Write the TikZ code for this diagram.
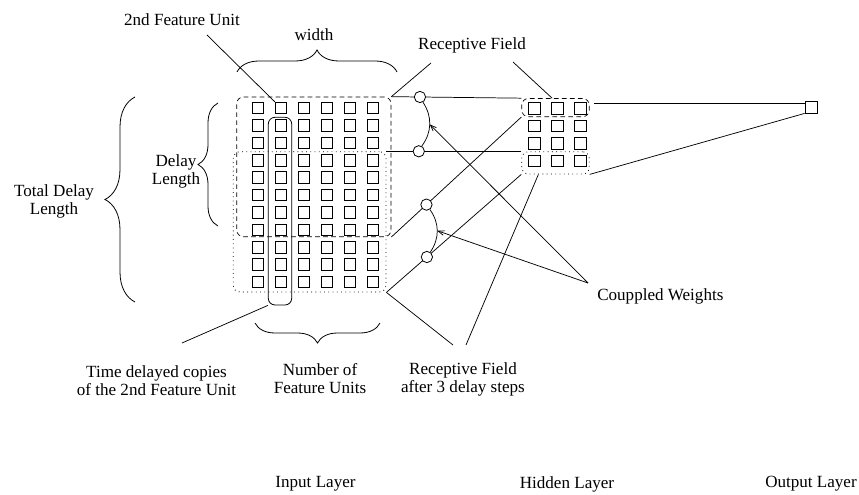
\documentclass[tikz,border=0pt]{standalone}
\usepackage{fontspec}
\setmainfont{Liberation Serif}
\usetikzlibrary{decorations.pathreplacing,fit,calc,arrows.meta}
\begin{document}
\begin{tikzpicture}[x=0.75pt,y=-0.75pt,
  unit/.style={draw, line width=0.6pt, minimum size=8.6pt, inner sep=0pt},
  rfbox/.style={draw, dash pattern=on 3.5pt off 2.5pt, rounded corners=5pt, inner sep=0pt, line width=0.5pt},
  drfbox/.style={draw, dash pattern=on 0.6pt off 2.6pt, rounded corners=5pt, inner sep=0pt, line width=0.6pt},
  colbox/.style={draw, rounded corners=5pt, inner sep=0pt, line width=0.6pt},
  wcirc/.style={draw, circle, fill=white, minimum size=8.5pt, inner sep=0pt, line width=0.6pt},
  conn/.style={line width=0.55pt},
  arr/.style={conn, -{Straight Barb[length=4.5pt,width=3.5pt]}},
  lbl/.style={font=\fontsize{12.8}{13.5}\selectfont, align=center, inner sep=0pt},
  brc/.style={decorate, decoration={brace, amplitude=#1}, line width=0.6pt},
]
\useasboundingbox (0,0) rectangle (859,495);

% input layer units
\foreach \r in {1,...,11}
  \foreach \c in {1,...,6}
    \node[unit] (in-\r-\c) at ({258+23*(\c-1)},{108+17.4*(\r-1)}) {};
% hidden layer units
\foreach \r in {1,...,4}
  \foreach \c in {1,2,3}
    \node[unit] (h-\r-\c) at ({534.5+23*(\c-1)},{108.5+17.5*(\r-1)}) {};
% output unit
\node[unit, minimum size=9pt] (out) at (811,107) {};

% receptive fields
\node[rfbox, fit={(236.7,97) (391,236.7)}] (rf) {};
\node[drfbox, fit={(233.3,151.7) (386,292)}] (drf) {};
\node[colbox, fit={(268.3,117.3) (291.7,305)}] (col) {};
\node[rfbox, fit={(521.7,98.5) (589.3,116.7)}] (hrf) {};
\node[drfbox, fit={(521.7,151.7) (589.3,174)}] (hdrf) {};

% connections with coupled weights
\draw[conn] (rf.north east) -- node[wcirc,pos=0.22] (c1) {} (hrf.north west);
\draw[conn] (drf.north east) -- node[wcirc,pos=0.24] (c2) {} (hdrf.north west);
\draw[conn] (rf.south east) -- node[wcirc,pos=0.27] (c3) {} (hrf.south west);
\draw[conn] (drf.south east) -- node[wcirc,pos=0.3] (c4) {} (hdrf.south west);
\draw[conn] (c1.-60) to[bend left=35] coordinate[pos=0.5] (a1) (c2.60);
\draw[conn] (c3.-55) to[bend left=35] coordinate[pos=0.5] (a2) (c4.55);

% hidden to output
\coordinate (ho1) at (594,103);
\draw[conn] (ho1) -- (out.west |- ho1);
\draw[conn] (hdrf.south east) -- (out.south west);

% braces
\coordinate (bw1) at (237,72); \coordinate (bw2) at (397,72);
\draw[brc=16.5pt] (bw1) -- (bw2);
\node[lbl] (lwidth) at (314,35) {width};

\coordinate (bn1) at (380,323); \coordinate (bn2) at (255,323);
\draw[brc=15pt] (bn1) -- (bn2);
\node[lbl] (lnum) at (320,379) {Number of\\Feature Units};

\coordinate (bt1) at (135,302); \coordinate (bt2) at (135,97);
\draw[brc=22.5pt] (bt1) -- (bt2);
\node[lbl] (ltot) at (54,201) {Total Delay\\Length};

\coordinate (bd1) at (218,226); \coordinate (bd2) at (218,103);
\draw[brc=15pt] (bd1) -- (bd2);
\node[lbl] (ldel) at (176,171) {Delay\\Length};

% labels with pointers
\node[lbl] (l2nd) at (182,20) {2nd Feature Unit};
\coordinate (p2nd) at (207,35);
\draw[conn] (p2nd) -- (in-1-2.north west);

\node[lbl] (lrf) at (472,45) {Receptive Field};
\coordinate (prf1) at (431,63);
\coordinate (prf2) at (513,62);
\draw[conn] (prf1) -- (rf.north east);
\draw[conn] (prf2) -- ($(hrf.north west)!0.45!(hrf.north east)$);

\node[lbl, anchor=west] (lcw) at (597,296) {Couppled Weights};
\coordinate (cwp) at (588,283);
\draw[arr] (cwp) -- (a1);
\draw[arr] (cwp) -- (a2);

\node[lbl] (ltd) at (156.5,381) {Time delayed copies\\of the 2nd Feature Unit};
\coordinate (ptd) at (182,343);
\draw[conn] (ptd) -- (col.south west);

\node[lbl] (lra) at (463,379) {Receptive Field\\after 3 delay steps};
\coordinate (pra1) at (453,345);
\coordinate (pra2) at (466,345);
\draw[conn] (pra1) -- (drf.south east);
\draw[conn] (pra2) -- ($(hdrf.south west)!0.25!(hdrf.south east)$);

% layer names
\node[lbl] (lin) at (315.5,484) {Input Layer};
\node[lbl] (lhid) at (567,484) {Hidden Layer};
\node[lbl] (lout) at (811,484) {Output Layer};
\end{tikzpicture}
\end{document}
